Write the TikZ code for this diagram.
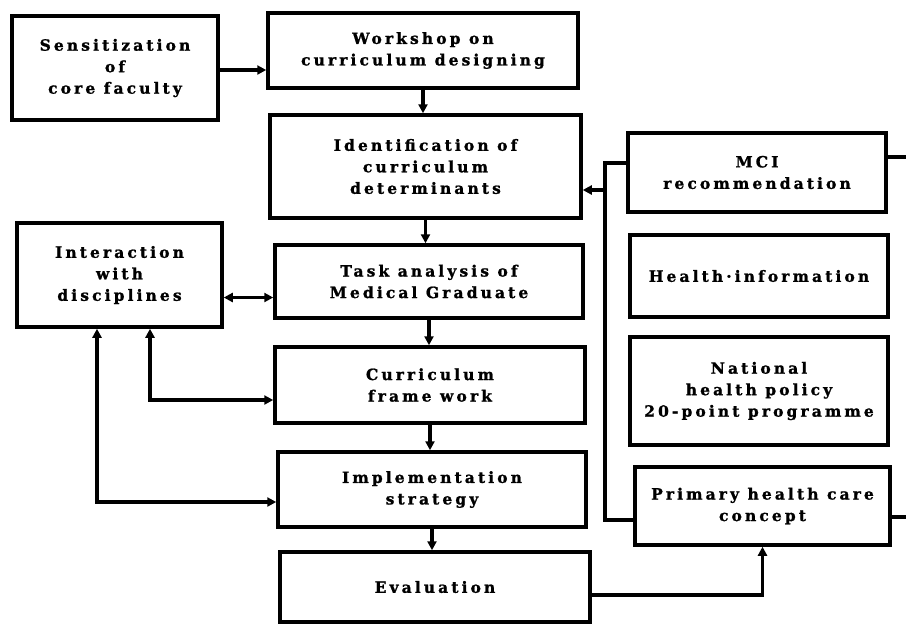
\documentclass[tikz,border=0pt]{standalone}
\usepackage{fontspec}
\setmainfont{DejaVu Serif}[LetterSpace=20, BoldFeatures={FakeBold=1.2}]
\usetikzlibrary{arrows.meta, positioning, calc}
\tikzstyle{box} = [rectangle, draw=black, fill=white, line width=3.5pt, align=center, font=\fontsize{15.5}{21.5}\selectfont\bfseries, inner sep=1pt]
\tikzstyle{arrow} = [-{Triangle[length=9pt, width=9pt]}, line width=3.2pt]
\tikzstyle{dblarrow} = [{Triangle[length=9pt, width=9pt]}-{Triangle[length=9pt, width=9pt]}, line width=3.2pt]
\tikzstyle{link} = [line width=3.2pt]

\begin{document}
\begin{tikzpicture}[x=1pt, y=-1pt]
    \useasboundingbox[fill=white] (0,0) rectangle (906,625);

    % Left column
    \node[box, minimum width=206, minimum height=104] (sens) at (115, 68) {Sensitization\\of\\core faculty};
    \node[box, minimum width=205, minimum height=104] (inter) at (119.5, 275) {Interaction\\with\\disciplines};

    % Main sequence
    \node[box, minimum width=310, minimum height=75] (work) at (423, 50.5) {Workshop on\\curriculum designing};
    \node[box, minimum width=311, minimum height=103] (ident) at (425.5, 166.5) {Identification of\\curriculum\\determinants};
    \node[box, minimum width=308, minimum height=73] (task) at (429, 281.5) {Task analysis of\\Medical Graduate};
    \node[box, minimum width=310, minimum height=76] (frame) at (430, 385) {Curriculum\\frame work};
    \node[box, minimum width=308, minimum height=75] (impl) at (432, 489.5) {Implementation\\strategy};
    \node[box, minimum width=310, minimum height=70] (eval) at (435, 587) {Evaluation};

    % Determinants
    \node[box, minimum width=258, minimum height=79] (mci) at (757, 172.5) {MCI\\recommendation};
    \node[box, minimum width=258, minimum height=82] (hinfo) at (759, 276) {Health·information};
    \node[box, minimum width=258, minimum height=108] (nat) at (759, 391) {National\\health policy\\20-point programme};
    \node[box, minimum width=255, minimum height=78] (phc) at (762.5, 506) {Primary health care\\concept};

    % Bus coordinates
    \coordinate (bustop) at (605, 163);
    \coordinate (busin) at (605, 190);
    \coordinate (busbot) at (605, 520);
    \coordinate (mcistub) at (906, 157);
    \coordinate (phcstub) at (906, 517);

    % Arrows
    \draw[arrow] (sens.east |- 0,70) -- (work.west |- 0,70);
    \draw[arrow] (work.south) -- (work.south |- ident.north);
    \draw[arrow] (ident.south) -- (ident.south |- task.north);
    \draw[arrow] (task.south) -- (task.south |- frame.north);
    \draw[arrow] (frame.south) -- (frame.south |- impl.north);
    \draw[arrow] (impl.south) -- (impl.south |- eval.north);
    \draw[dblarrow] ([yshift=-16pt]task.west -| inter.east) -- ([yshift=-16pt]task.west);
    \draw[dblarrow] ([xshift=30.5pt]inter.south) |- ([yshift=-15pt]frame.west);
    \draw[dblarrow] ([xshift=-22.5pt]inter.south) |- ([yshift=-12.5pt]impl.west);
    \draw[link] (bustop -| mci.west) -- (bustop) -- (busbot) -- (busbot -| phc.west);
    \draw[arrow] (busin) -- (busin -| ident.east);
    \draw[arrow] ([yshift=-8pt]eval.east) -| (phc.south);
    \draw[link] (mcistub -| mci.east) -- (mcistub);
    \draw[link] (phcstub -| phc.east) -- (phcstub);
\end{tikzpicture}
\end{document}
